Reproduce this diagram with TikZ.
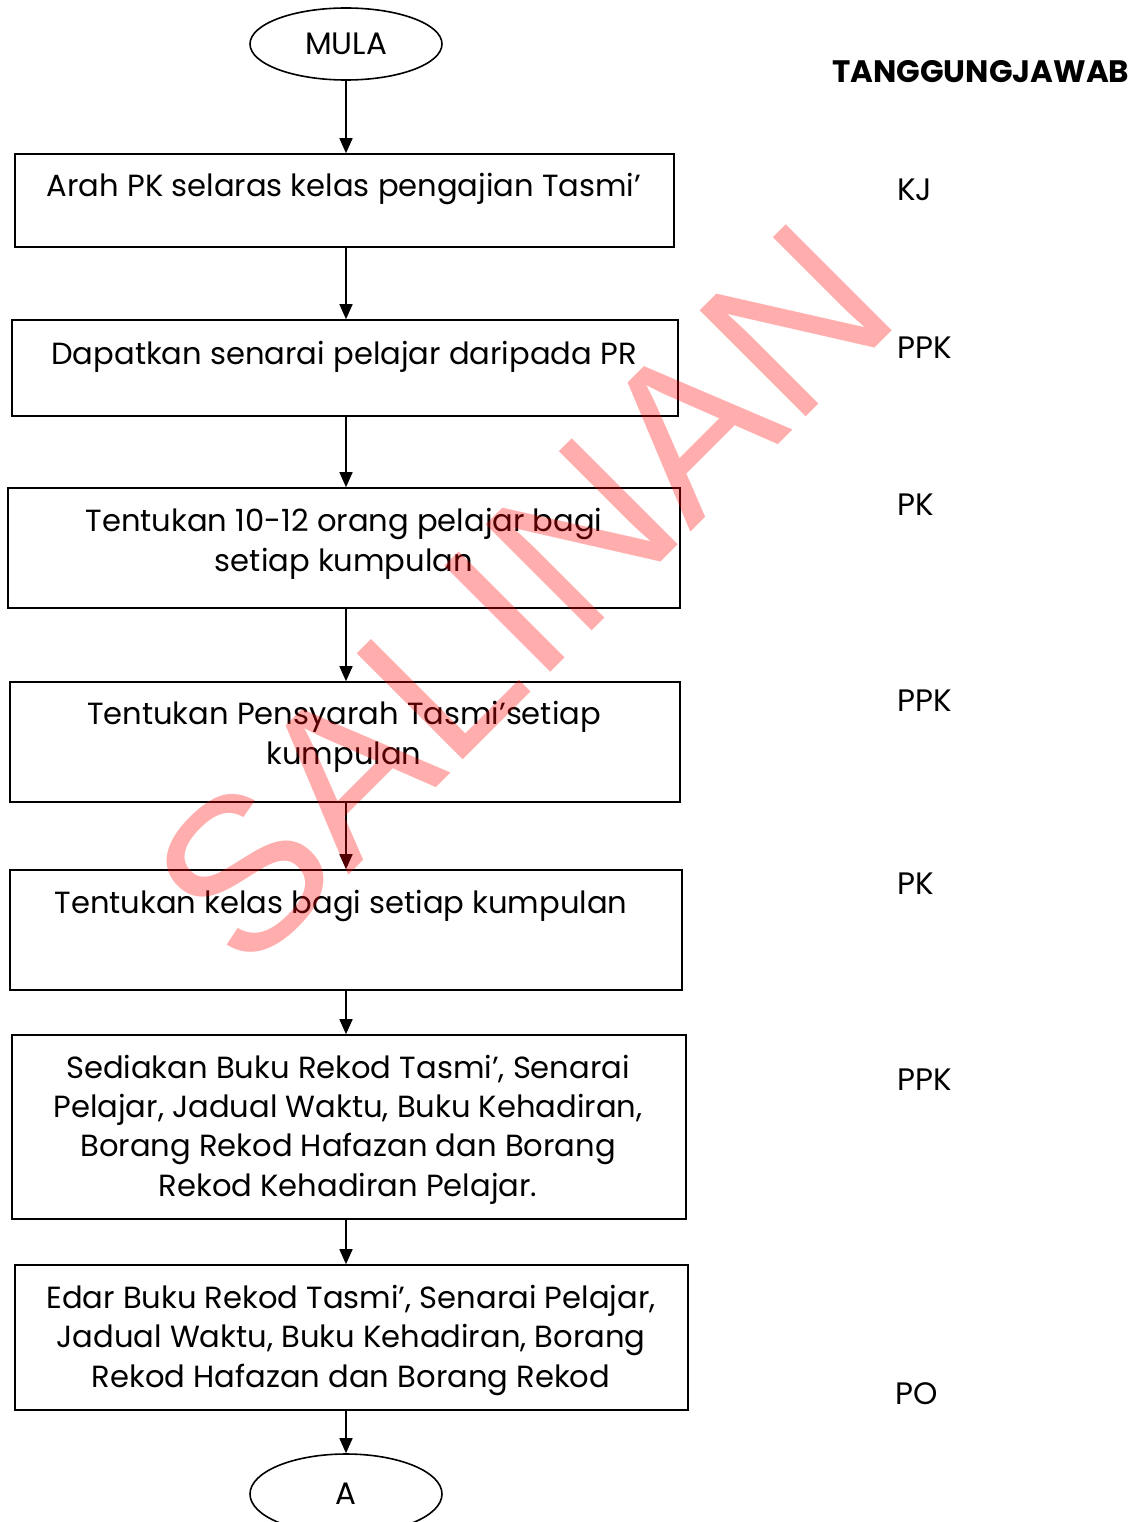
\documentclass[tikz,border=0pt]{standalone}
\usepackage{fontspec}
\setmainfont{Poppins}
\newfontfamily\wmfont{Liberation Sans}
\usetikzlibrary{arrows.meta, shapes.geometric}

\tikzset{
  stepbox/.style={draw, line width=1.6pt, rectangle, inner sep=0pt},
  terminal/.style={draw, line width=1.6pt, ellipse, inner sep=0pt,
    minimum width=192pt, font=\fontsize{31}{36}\selectfont},
  steptext/.style={align=center, inner sep=0pt, anchor=base,
    font=\fontsize{30.6}{39.3}\selectfont},
  who/.style={anchor=base west, inner sep=0pt, font=\fontsize{31}{36}\selectfont},
  flow/.style={-{Triangle[length=15pt,width=13pt]}, line width=1.6pt},
}

\begin{document}
\begin{tikzpicture}[x=1pt, y=-1pt]
\useasboundingbox (0,0) rectangle (1138,1522);

% start and end
\node[terminal, minimum height=72pt] (mula) at (346,44) {MULA};
\node[terminal, minimum height=80pt] (akhir) at (346,1494) {A};

% the steps
\node[stepbox, minimum width=659pt, minimum height=93pt] (b1) at (344.5,200.5) {};
\node[stepbox, minimum width=666pt, minimum height=96pt] (b2) at (345,368) {};
\node[stepbox, minimum width=672pt, minimum height=120pt] (b3) at (344,548) {};
\node[stepbox, minimum width=670pt, minimum height=120pt] (b4) at (345,742) {};
\node[stepbox, minimum width=672pt, minimum height=120pt] (b5) at (346,930) {};
\node[stepbox, minimum width=674pt, minimum height=184pt] (b6) at (349,1127) {};
\node[stepbox, minimum width=673pt, minimum height=145pt] (b7) at (351.5,1337.5) {};

% texts (base = last line)
\node[steptext] (t1) at (344,197) {Arah PK selaras kelas pengajian Tasmi’};
\node[steptext] (t2) at (344,364) {Dapatkan senarai pelajar daripada PR};
\node[steptext] (t3) at (344,571) {Tentukan 10-12 orang pelajar bagi\\setiap kumpulan};
\node[steptext] (t4) at (344,764) {Tentukan Pensyarah Tasmi’setiap\\kumpulan};
\node[steptext] (t5) at (341,913) {Tentukan kelas bagi setiap kumpulan};
\node[steptext] (t6) at (348,1196) {Sediakan Buku Rekod Tasmi’, Senarai\\Pelajar, Jadual Waktu, Buku Kehadiran,\\Borang Rekod Hafazan dan Borang\\Rekod Kehadiran Pelajar.};
\node[steptext] (t7) at (351,1387) {Edar Buku Rekod Tasmi’, Senarai Pelajar,\\Jadual Waktu, Buku Kehadiran, Borang\\Rekod Hafazan dan Borang Rekod};

% arrows
\draw[flow] (mula) -- (mula |- b1.north);
\draw[flow] (b1.south -| mula) -- (b2.north -| mula);
\draw[flow] (b2.south -| mula) -- (b3.north -| mula);
\draw[flow] (b3.south -| mula) -- (b4.north -| mula);
\draw[flow] (b4.south -| mula) -- (b5.north -| mula);
\draw[flow] (b5.south -| mula) -- (b6.north -| mula);
\draw[flow] (b6.south -| mula) -- (b7.north -| mula);
\draw[flow] (b7.south -| mula) -- (akhir);

% who is responsible
\node[who, font=\fontsize{31}{36}\selectfont\bfseries] (tj) at (832,83) {TANGGUNGJAWAB};
\node[who] (r1) at (897,201) {KJ};
\node[who] (r2) at (897,358) {PPK};
\node[who] (r3) at (897,515) {PK};
\node[who] (r4) at (897,711) {PPK};
\node[who] (r5) at (897,894) {PK};
\node[who] (r6) at (897,1090) {PPK};
\node[who] (r7) at (895,1404) {PO};

% watermark
\node[rotate=45, text=red, text opacity=0.32, inner sep=0pt,
  font=\fontsize{218}{218}\wmfont] (salinan) at (522,595) {SALINAN};
\end{tikzpicture}
\end{document}
